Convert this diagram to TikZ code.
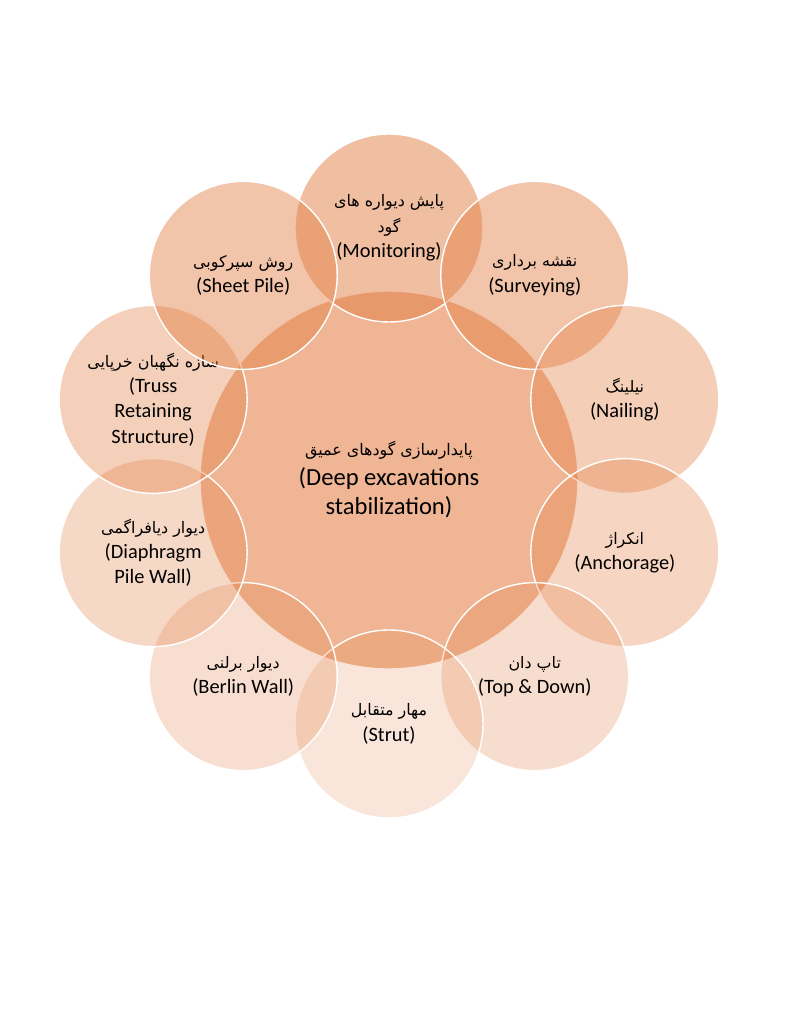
\documentclass[tikz,border=0pt]{standalone}
\usepackage{fontspec}
\setmainfont{Carlito}
\newfontfamily\farsifont[Script=Arabic,Scale=0.78]{DejaVu Sans}
\TeXXeTstate=1
\newcommand{\fa}[1]{{\farsifont\beginR #1\endR}}
\definecolor{peach}{RGB}{226,125,66}

\begin{document}
\begin{tikzpicture}
        [hub/.style={circle, draw=white, line width=1pt, fill=peach, fill opacity=0.57, text opacity=1,
            minimum size=9.45cm, align=center, font=\fontsize{17.5}{21}\selectfont, inner sep=0pt},
        petal/.style={circle, draw=white, line width=1pt, fill=peach, text opacity=1,
            minimum size=4.7cm, align=center, font=\fontsize{14.5}{18}\selectfont, inner sep=0pt}]

        \useasboundingbox (-9.725,11.9) rectangle (10.05,-13.7);

        \node[hub] (core) at (0, -0.1) {\fa{\fontsize{14.5}{22}\selectfont پایدارسازی گودهای عمیق}\\(Deep excavations\\stabilization)};

        % methods round the hub, clockwise from the top
        \node[petal, fill opacity=0.50] (monitoring) at (90:6.2) {\fa{پایش دیواره های}\\\fa{گود}\\(Monitoring)};
        \node[petal, fill opacity=0.45] (surveying) at (54:6.2) {\fa{نقشه برداری}\\(Surveying)};
        \node[petal, fill opacity=0.38] (nailing) at (18:6.2) {\fa{نیلینگ}\\(Nailing)};
        \node[petal, fill opacity=0.32] (anchorage) at (-18:6.2) {\fa{انکراژ}\\(Anchorage)};
        \node[petal, fill opacity=0.26] (topdown) at (-54:6.2) {\fa{تاپ دان}\\(Top \& Down)};
        \node[petal, fill opacity=0.20] (strut) at (-90:6.2) {\fa{مهار متقابل}\\(Strut)};
        \node[petal, fill opacity=0.25] (berlin) at (-126:6.2) {\fa{دیوار برلنی}\\(Berlin Wall)};
        \node[petal, fill opacity=0.30] (diaphragm) at (-162:6.2) {\fa{دیوار دیافراگمی}\\(Diaphragm\\Pile Wall)};
        \node[petal, fill opacity=0.37] (truss) at (162:6.2) {\fa{سازه نگهبان خرپایی}\\(Truss\\Retaining\\Structure)};
        \node[petal, fill opacity=0.45] (sheetpile) at (126:6.2) {\fa{روش سپرکوبی}\\(Sheet Pile)};

    \end{tikzpicture}
\end{document}
